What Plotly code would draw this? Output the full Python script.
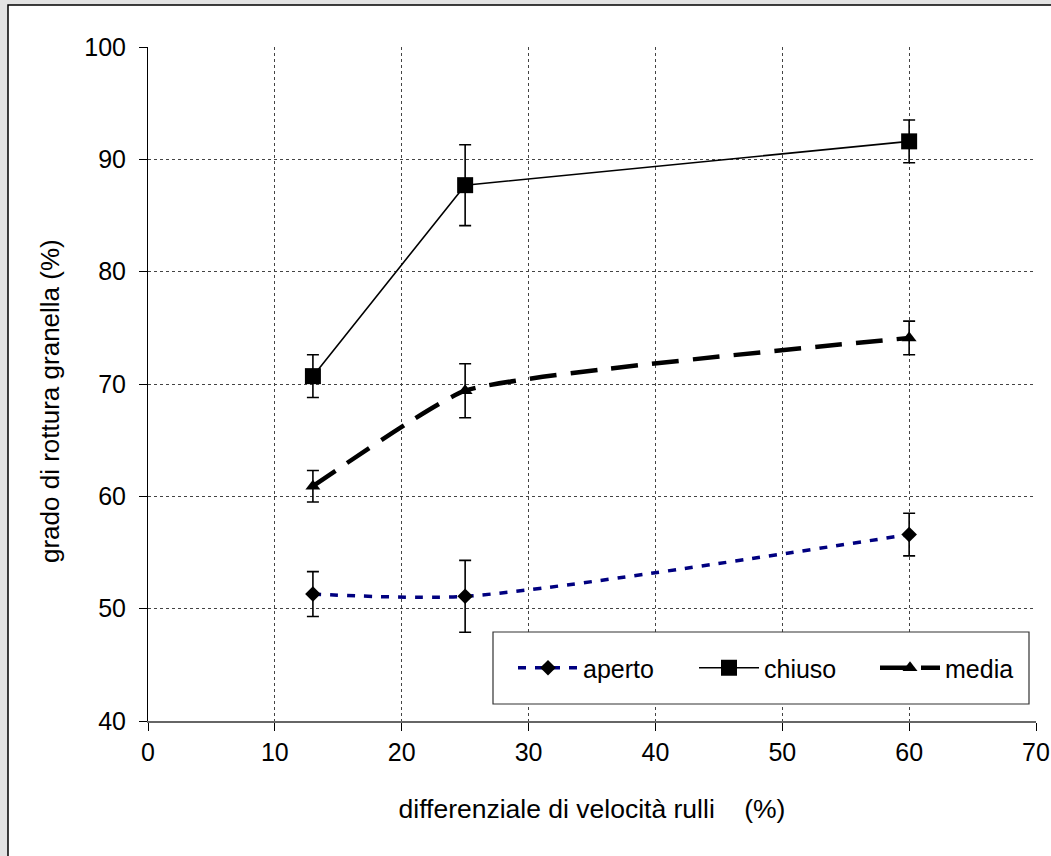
import plotly.graph_objects as go

# ---- data ----
x_vals = [13, 25, 60]
aperto = [51.3, 51.1, 56.6]
aperto_err = [2.0, 3.2, 1.9]
chiuso = [70.7, 87.7, 91.6]
chiuso_err = [1.9, 3.6, 1.9]
media = [60.9, 69.4, 74.1]
media_err = [1.4, 2.4, 1.5]

x_ticks = [0, 10, 20, 30, 40, 50, 60, 70]
y_ticks = [40, 50, 60, 70, 80, 90, 100]

FONT = "Liberation Sans, Arial, sans-serif"
FS = 25

err_style = dict(type="data", visible=True, color="black", thickness=1.6, width=6)

fig = go.Figure()
fig.add_trace(go.Scatter(
    x=x_vals, y=aperto, name="aperto", mode="lines+markers",
    line=dict(color="#000080", width=3.5, dash="8px,9px", shape="spline", smoothing=0.7),
    marker=dict(symbol="diamond", size=12, color="black"),
    error_y=dict(array=aperto_err, **err_style),
))
fig.add_trace(go.Scatter(
    x=x_vals, y=chiuso, name="chiuso", mode="lines+markers",
    line=dict(color="black", width=1.6),
    marker=dict(symbol="square", size=16, color="black"),
    error_y=dict(array=chiuso_err, **err_style),
))
fig.add_trace(go.Scatter(
    x=x_vals, y=media, name="media", mode="lines+markers",
    line=dict(color="black", width=4.5, dash="27px,14px", shape="spline", smoothing=0.4),
    marker=dict(symbol="triangle-up", size=13, color="black"),
    error_y=dict(array=media_err, **err_style),
))

L, R, T, B = 148, 15, 47, 135
W, H = 1051, 856
pw, ph = W - L - R, H - T - B

def px_x(p):
    return (p - L) / pw

def px_y(p):
    return (H - B - p) / ph

shapes = [
    # white panel with border
    dict(type="rect", xref="paper", yref="paper", layer="below",
         x0=px_x(8), x1=px_x(1100), y0=px_y(5), y1=px_y(900),
         fillcolor="white", line=dict(color="black", width=1.5)),
    # legend box
    dict(type="rect", xref="paper", yref="paper", layer="above",
         x0=px_x(493), x1=px_x(1029), y0=px_y(704), y1=px_y(632),
         fillcolor="white", line=dict(color="#333333", width=1.2)),
]

fig.update_layout(
    width=W, height=H,
    margin=dict(l=L, r=R, t=T, b=B, autoexpand=False),
    paper_bgcolor="#e3e3e3",
    plot_bgcolor="rgba(0,0,0,0)",
    font=dict(family=FONT, size=FS, color="black"),
    shapes=shapes,
    showlegend=True,
    legend=dict(
        orientation="h", x=px_x(513), y=px_y(668), xanchor="left", yanchor="middle",
        bgcolor="rgba(0,0,0,0)", borderwidth=0,
        font=dict(family=FONT, size=FS, color="black"),
        entrywidth=106, entrywidthmode="pixels", itemwidth=60,
    ),
    annotations=[
        dict(text="grado di rottura granella (%)", textangle=-90,
             xref="paper", yref="paper", x=px_x(50), y=px_y(401),
             xanchor="center", yanchor="middle", showarrow=False,
             font=dict(size=26, family=FONT, color="black")),
    ],
    xaxis=dict(
        range=[0, 70], tickvals=x_ticks, ticktext=[str(v) for v in x_ticks],
        showgrid=True, gridcolor="#444444", griddash="dot", gridwidth=1,
        showline=True, linecolor="#666666", linewidth=2,
        ticks="outside", ticklen=8, tickcolor="black", tickwidth=1,
        zeroline=False, tickfont=dict(size=FS),
        title=dict(text="differenziale di velocità rulli\u00a0\u00a0\u00a0\u00a0(%)",
                   font=dict(size=26.5), standoff=34),
        automargin=False,
    ),
    yaxis=dict(
        range=[40, 100], tickvals=y_ticks, ticktext=[str(v) for v in y_ticks],
        showgrid=True, gridcolor="#444444", griddash="dot", gridwidth=1,
        showline=True, linecolor="black", linewidth=1,
        ticks="outside", ticklen=8, tickcolor="black", tickwidth=1,
        zeroline=False, tickfont=dict(size=FS), ticklabelstandoff=8,
        automargin=False,
    ),
)

fig.write_html("out.html", config={"displayModeBar": False},
               post_script="document.body.style.margin='0';")
